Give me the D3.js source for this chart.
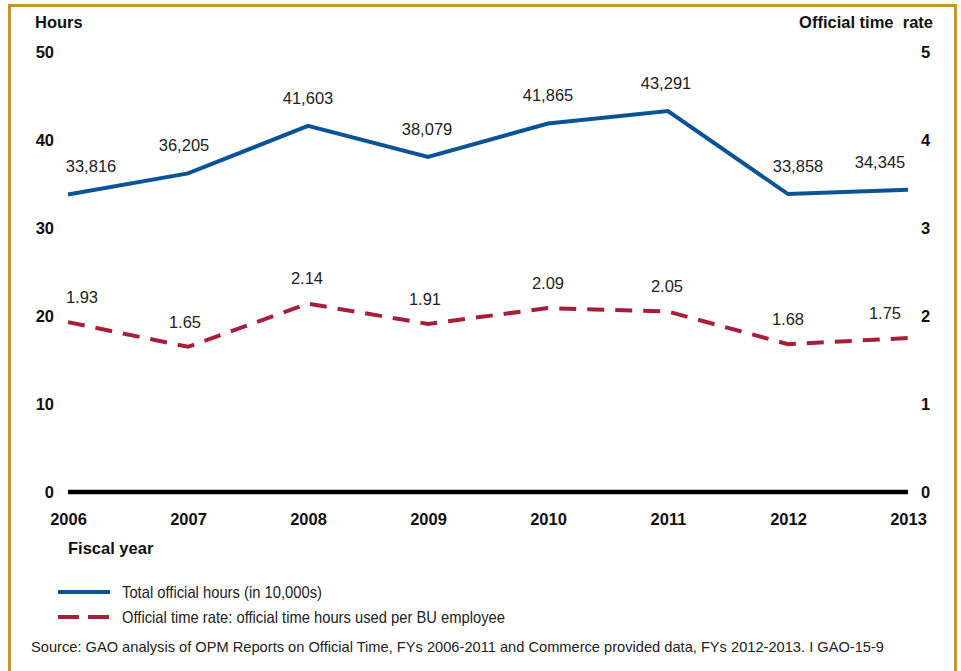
<!DOCTYPE html>
<html><head><meta charset="utf-8">
<script src="https://cdn.jsdelivr.net/npm/d3@7"></script>
<style>
html,body{margin:0;padding:0;background:#fff;}
text{font-family:"Liberation Sans",Arial,Helvetica,sans-serif;}
</style></head>
<body>
<svg id="c" width="961" height="671"></svg>
<script>
const years = [2006, 2007, 2008, 2009, 2010, 2011, 2012, 2013];
const totalHours = [33816, 36205, 41603, 38079, 41865, 43291, 33858, 34345];
const timeRate = [1.93, 1.65, 2.14, 1.91, 2.09, 2.05, 1.68, 1.75];
const leftTicks = [0, 10, 20, 30, 40, 50];
const rightTicks = [0, 1, 2, 3, 4, 5];
const hoursLabelNudge = [23, -4, 0, -1, 0, -2, 10, -28];
const rateLabelNudge = [14, -3, -1, -3, 0, -1, 0, -23];

const svg = d3.select("#c");
const blue = "#0b5394", red = "#a51f38";
const FF = "Liberation Sans, Arial, sans-serif";

// frame
svg.append("path").attr("d","M9.5,700 V5.5 H955.5 V700")
  .attr("fill","none").attr("stroke","#c4962f").attr("stroke-width",3);

const x = d3.scalePoint().domain(years).range([68, 908]);
const yL = d3.scaleLinear().domain([0, 50]).range([492, 52]);
const yR = d3.scaleLinear().domain([0, 5]).range([492, 52]);

const bold = s => s.attr("font-weight","bold").attr("font-size",16.5).attr("fill","#111");

// titles
bold(svg.append("text").attr("x",35).attr("y",28).text("Hours"));
bold(svg.append("text").attr("x",933).attr("y",28).attr("text-anchor","end").attr("xml:space","preserve").style("white-space","pre").text("Official time  rate"));
bold(svg.append("text").attr("x",68).attr("y",554).text("Fiscal year"));

// left axis
const gl = svg.append("g").attr("transform","translate(54,0)")
  .call(d3.axisLeft(yL).tickValues(leftTicks).tickSize(0).tickPadding(0));
gl.select(".domain").remove();
gl.selectAll("text").attr("font-weight","bold").attr("font-size",16.5).attr("fill","#111")
  .attr("font-family",FF);

// right axis
const gr = svg.append("g").attr("transform","translate(921,0)")
  .call(d3.axisRight(yR).tickValues(rightTicks).tickSize(0).tickPadding(0).tickFormat(d3.format("d")));
gr.select(".domain").remove();
gr.selectAll("text").attr("font-weight","bold").attr("font-size",16.5).attr("fill","#111")
  .attr("font-family",FF);

// bottom axis
const gb = svg.append("g").attr("transform","translate(0,492)")
  .call(d3.axisBottom(x).tickSize(0).tickPadding(21).tickFormat(d3.format("d")));
gb.select(".domain").attr("stroke","#000").attr("stroke-width",4.5).attr("d","M68,0H908");
gb.selectAll("text").attr("font-weight","bold").attr("font-size",16.5).attr("fill","#111")
  .attr("font-family",FF);

// lines
const lineH = d3.line().x((d,i)=>x(years[i])).y(d=>yL(d/1000));
svg.append("path").datum(totalHours).attr("d",lineH).attr("fill","none")
  .attr("stroke",blue).attr("stroke-width",4).attr("stroke-linejoin","miter");
const lineR = d3.line().x((d,i)=>x(years[i])).y(d=>yR(d));
svg.append("path").datum(timeRate).attr("d",lineR).attr("fill","none")
  .attr("stroke",red).attr("stroke-width",4).attr("stroke-dasharray","17,11");

// labels
svg.selectAll(".lh").data(totalHours).join("text")
  .attr("x",(d,i)=>x(years[i])+hoursLabelNudge[i]).attr("y",d=>yL(d/1000)-28)
  .attr("dy","0.35em").attr("text-anchor","middle").attr("font-size",16.5).attr("fill","#222")
  .text(d=>d3.format(",")(d));
svg.selectAll(".lr").data(timeRate).join("text")
  .attr("x",(d,i)=>x(years[i])+rateLabelNudge[i]).attr("y",d=>yR(d)-25)
  .attr("dy","0.35em").attr("text-anchor","middle").attr("font-size",16.5).attr("fill","#222")
  .text(d=>d3.format(".2f")(d));

// legend
svg.append("line").attr("x1",58).attr("x2",110).attr("y1",592).attr("y2",592)
  .attr("stroke",blue).attr("stroke-width",4);
svg.append("text").attr("x",122).attr("y",592).attr("dy","0.35em").attr("font-size",16.5).attr("fill","#222")
  .attr("textLength",200).attr("lengthAdjust","spacingAndGlyphs")
  .text("Total official hours (in 10,000s)");
svg.append("line").attr("x1",58).attr("x2",110).attr("y1",617).attr("y2",617)
  .attr("stroke",red).attr("stroke-width",4).attr("stroke-dasharray","21,9");
svg.append("text").attr("x",122).attr("y",617).attr("dy","0.35em").attr("font-size",16.5).attr("fill","#222")
  .attr("textLength",383).attr("lengthAdjust","spacingAndGlyphs")
  .text("Official time rate: official time hours used per BU employee");

svg.append("text").attr("x",31).attr("y",647).attr("dy","0.35em").attr("font-size",14.5).attr("fill","#222")
  .attr("textLength",853).attr("lengthAdjust","spacingAndGlyphs")
  .text("Source: GAO analysis of OPM Reports on Official Time, FYs 2006-2011 and Commerce provided data, FYs 2012-2013. I GAO-15-9");
</script>
</body></html>
